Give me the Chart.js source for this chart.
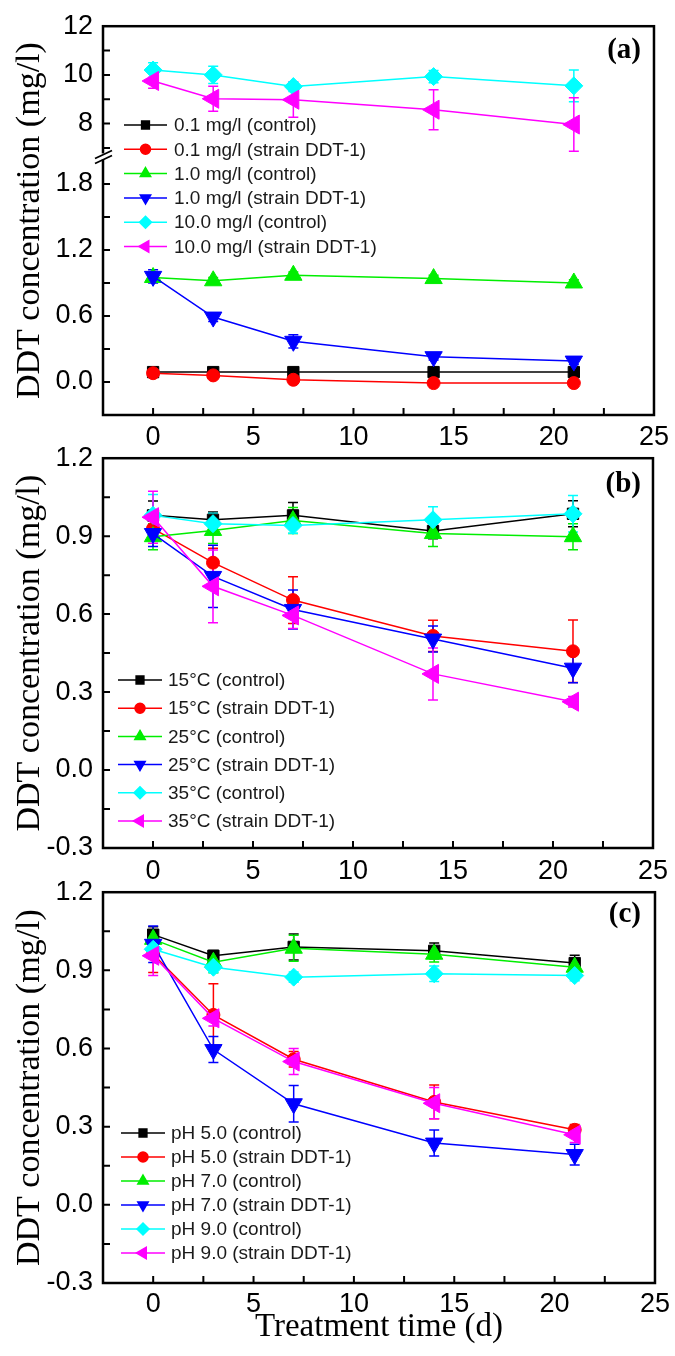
<!DOCTYPE html>
<html>
<head>
<meta charset="utf-8">
<script src="https://cdn.jsdelivr.net/npm/chart.js@4/dist/chart.umd.min.js"></script>
<style>
  html, body { margin: 0; padding: 0; background: #fff; }
  #wrap { position: relative; width: 675px; height: 1356px; background: #fff; overflow: hidden; }
  canvas { position: absolute; left: 0; }
</style>
</head>
<body>
<div id="wrap">
  <canvas id="cA" width="675" height="455" style="top:0px"></canvas>
  <canvas id="cB" width="675" height="456" style="top:432px"></canvas>
  <canvas id="cC" width="675" height="487" style="top:866px"></canvas>
</div>
<script>
// ---------------- DATA ----------------
const days = [0, 3, 7, 14, 21];

const xTicks  = [-2.5, 0, 2.5, 5, 7.5, 10, 12.5, 15, 17.5, 20, 22.5, 25];
const xLabels = ['', '0', '', '5', '', '10', '', '15', '', '20', '', '25'];

// Panel (a) – broken y axis
const yTicksA  = [0, 0.3, 0.6, 0.9, 1.2, 1.5, 1.8, 7, 8, 9, 10, 11, 12];
const yLabelsA = ['0.0', '', '0.6', '', '1.2', '', '1.8', '', '8', '', '10', '', '12'];

const namesA = ['0.1 mg/l (control)', '0.1 mg/l (strain DDT-1)', '1.0 mg/l (control)',
                '1.0 mg/l (strain DDT-1)', '10.0 mg/l (control)', '10.0 mg/l (strain DDT-1)'];
const a01Control     = [0.09, 0.09, 0.09, 0.09, 0.09];
const a01ControlErr  = [0.01, 0.01, 0.01, 0.01, 0.01];
const a01Strain      = [0.08, 0.06, 0.02, -0.01, -0.01];
const a01StrainErr   = [0.01, 0.01, 0.01, 0.01, 0.01];
const a1Control      = [0.95, 0.92, 0.97, 0.94, 0.90];
const a1ControlErr   = [0.03, 0.03, 0.03, 0.03, 0.03];
const a1Strain       = [0.96, 0.59, 0.37, 0.23, 0.19];
const a1StrainErr    = [0.06, 0.04, 0.06, 0.03, 0.03];
const a10Control     = [10.2, 10.0, 9.52, 9.93, 9.55];
const a10ControlErr  = [0.3, 0.35, 0.2, 0.25, 0.65];
const a10Strain      = [9.75, 9.02, 8.98, 8.57, 7.96];
const a10StrainErr   = [0.3, 0.51, 0.72, 0.82, 1.1];

// Panel (b) & (c) y ticks
const yTicksBC  = [-0.3, -0.15, 0, 0.15, 0.3, 0.45, 0.6, 0.75, 0.9, 1.05, 1.2];
const yLabelsBC = ['-0.3', '', '0.0', '', '0.3', '', '0.6', '', '0.9', '', '1.2'];

// Panel (b) – temperature
const namesB = ['15°C (control)', '15°C (strain DDT-1)', '25°C (control)',
                '25°C (strain DDT-1)', '35°C (control)', '35°C (strain DDT-1)'];
const b15Control    = [0.98, 0.963, 0.98, 0.92, 0.986];
const b15ControlErr = [0.055, 0.03, 0.05, 0.03, 0.05];
const b15Strain     = [0.929, 0.798, 0.654, 0.516, 0.457];
const b15StrainErr  = [0.03, 0.055, 0.09, 0.06, 0.12];
const b25Control    = [0.898, 0.922, 0.96, 0.91, 0.898];
const b25ControlErr = [0.05, 0.05, 0.05, 0.05, 0.05];
const b25Strain     = [0.91, 0.745, 0.618, 0.504, 0.392];
const b25StrainErr  = [0.05, 0.12, 0.075, 0.05, 0.056];
const b35Control    = [0.98, 0.948, 0.941, 0.963, 0.986];
const b35ControlErr = [0.08, 0.04, 0.03, 0.05, 0.07];
const b35Strain     = [0.973, 0.707, 0.595, 0.37, 0.263];
const b35StrainErr  = [0.1, 0.14, 0.05, 0.1, 0.02];

// Panel (c) – pH
const namesC = ['pH 5.0 (control)', 'pH 5.0 (strain DDT-1)', 'pH 7.0 (control)',
                'pH 7.0 (strain DDT-1)', 'pH 9.0 (control)', 'pH 9.0 (strain DDT-1)'];
const c5Control    = [1.037, 0.956, 0.99, 0.975, 0.928];
const c5ControlErr = [0.03, 0.02, 0.05, 0.03, 0.03];
const c5Strain     = [0.962, 0.729, 0.559, 0.395, 0.288];
const c5StrainErr  = [0.07, 0.12, 0.03, 0.065, 0.02];
const c7Control    = [1.019, 0.931, 0.985, 0.962, 0.912];
const c7ControlErr = [0.03, 0.04, 0.05, 0.03, 0.03];
const c7Strain     = [1.0, 0.596, 0.388, 0.237, 0.193];
const c7StrainErr  = [0.07, 0.05, 0.07, 0.05, 0.04];
const c9Control    = [0.981, 0.912, 0.874, 0.887, 0.88];
const c9ControlErr = [0.03, 0.02, 0.02, 0.03, 0.02];
const c9Strain     = [0.956, 0.716, 0.55, 0.39, 0.269];
const c9StrainErr  = [0.076, 0.03, 0.05, 0.06, 0.03];

// ---------------- STYLE ----------------
const COLORS = ['#000000', '#ff0000', '#00ee00', '#0000ff', '#00ffff', '#ff00ff'];
const STYLES = [
  { pointStyle: 'rect', rotation: 0 },
  { pointStyle: 'circle', rotation: 0 },
  { pointStyle: 'triangle', rotation: 0 },
  { pointStyle: 'triangle', rotation: 180 },
  { pointStyle: 'rectRot', rotation: 0 },
  { pointStyle: 'triangle', rotation: -90 }
];
const RADII = [8, 6.5, 10, 10, 9, 11];
const LEGEND_RADII = [5.5, 5, 6, 6, 6, 6.5];

Chart.defaults.font.family = "'Liberation Sans', Arial, sans-serif";
Chart.defaults.color = '#000';

// ---------------- BROKEN SCALE (panel a) ----------------
const BREAK_FRAC = 0.665;
const SEG_LOW  = { min: -0.3, max: 2.05 };
const SEG_HIGH = { min: 6.65, max: 12.0 };
class BrokenScale extends Chart.LinearScale {
  getPixelForValue(value) {
    let f;
    if (value <= SEG_LOW.max) {
      f = (value - SEG_LOW.min) / (SEG_LOW.max - SEG_LOW.min) * BREAK_FRAC;
    } else if (value >= SEG_HIGH.min) {
      f = BREAK_FRAC + (value - SEG_HIGH.min) / (SEG_HIGH.max - SEG_HIGH.min) * (1 - BREAK_FRAC);
    } else {
      f = BREAK_FRAC;
    }
    return this.getPixelForDecimal(f);
  }
  getValueForPixel(pixel) {
    const f = this.getDecimalForPixel(pixel);
    if (f <= BREAK_FRAC) return SEG_LOW.min + f / BREAK_FRAC * (SEG_LOW.max - SEG_LOW.min);
    return SEG_HIGH.min + (f - BREAK_FRAC) / (1 - BREAK_FRAC) * (SEG_HIGH.max - SEG_HIGH.min);
  }
}
BrokenScale.id = 'broken';
BrokenScale.defaults = Chart.LinearScale.defaults;
Chart.register(BrokenScale);

// ---------------- PLUGINS ----------------
const errorBars = {
  id: 'errorBars',
  beforeDatasetsDraw(chart) {
    const ctx = chart.ctx, xs = chart.scales.x, ys = chart.scales.y, a = chart.chartArea;
    ctx.save();
    ctx.beginPath(); ctx.rect(a.left, a.top, a.right - a.left, a.bottom - a.top); ctx.clip();
    chart.data.datasets.forEach(ds => {
      if (!ds.errors) return;
      ctx.strokeStyle = ds.borderColor; ctx.lineWidth = 1.5;
      ds.data.forEach((p, i) => {
        const e = ds.errors[i];
        const x = xs.getPixelForValue(p.x);
        const y1 = ys.getPixelForValue(p.y + e), y2 = ys.getPixelForValue(p.y - e);
        ctx.beginPath();
        ctx.moveTo(x, y1); ctx.lineTo(x, y2);
        ctx.moveTo(x - 5, y1); ctx.lineTo(x + 5, y1);
        ctx.moveTo(x - 5, y2); ctx.lineTo(x + 5, y2);
        ctx.stroke();
      });
    });
    ctx.restore();
  }
};

const frame = {
  id: 'frame',
  afterDraw(chart, args, opts) {
    const ctx = chart.ctx, a = chart.chartArea, xs = chart.scales.x, ys = chart.scales.y;
    ctx.save();
    ctx.strokeStyle = '#000';
    ctx.lineWidth = 2;
    ctx.beginPath();
    xs.ticks.forEach(t => {
      const x = xs.getPixelForValue(t.value);
      if (x <= a.left + 1 || x >= a.right - 1) return;
      ctx.moveTo(x, a.bottom); ctx.lineTo(x, a.bottom - 7);
    });
    ys.ticks.forEach(t => {
      const y = ys.getPixelForValue(t.value);
      if (y <= a.top + 1 || y >= a.bottom - 1) return;
      ctx.moveTo(a.left, y); ctx.lineTo(a.left + 7, y);
    });
    ctx.stroke();
    ctx.lineWidth = 2.5;
    ctx.strokeRect(a.left, a.top, a.right - a.left, a.bottom - a.top);
    if (opts.broken) {
      const yb = a.bottom - BREAK_FRAC * (a.bottom - a.top);
      ctx.fillStyle = '#fff';
      ctx.fillRect(a.left - 3, yb - 3, 6, 6);
      ctx.lineWidth = 1.8;
      ctx.beginPath();
      ctx.moveTo(a.left - 8, yb + 2); ctx.lineTo(a.left + 9, yb - 6);
      ctx.moveTo(a.left - 8, yb + 7); ctx.lineTo(a.left + 9, yb - 1);
      ctx.stroke();
    }
    if (opts.label) {
      ctx.fillStyle = '#000';
      ctx.font = "bold 29px 'Liberation Serif', 'Times New Roman', serif";
      ctx.textAlign = 'right';
      ctx.textBaseline = 'middle';
      ctx.fillText(opts.label, opts.labelX, opts.labelY);
    }
    ctx.restore();
  }
};

const innerLegend = {
  id: 'innerLegend',
  afterDraw(chart, args, o) {
    if (!o || o.x0 === undefined) return;
    const ctx = chart.ctx;
    ctx.save();
    chart.data.datasets.forEach((ds, i) => {
      const y = o.y0 + i * o.dy;
      ctx.strokeStyle = ds.borderColor; ctx.lineWidth = 1.5;
      ctx.beginPath(); ctx.moveTo(o.x0, y); ctx.lineTo(o.x0 + o.len, y); ctx.stroke();
      ctx.fillStyle = ds.borderColor;
      Chart.helpers.drawPoint(ctx, {
        pointStyle: STYLES[i].pointStyle, rotation: STYLES[i].rotation,
        radius: LEGEND_RADII[i], borderWidth: 1
      }, o.x0 + o.len / 2, y);
      ctx.fill();
      ctx.fillStyle = '#1a1a1a';
      ctx.font = "19px 'Liberation Sans', Arial, sans-serif";
      ctx.textAlign = 'left'; ctx.textBaseline = 'middle';
      ctx.fillText(ds.label, o.textX, y + 1);
    });
    ctx.restore();
  }
};

// ---------------- BUILD ----------------
function makeDatasets(names, series, errs) {
  return names.map((name, i) => ({
    label: name,
    data: days.map((d, j) => ({ x: d, y: series[i][j] })),
    errors: errs[i],
    borderColor: COLORS[i],
    backgroundColor: COLORS[i],
    pointBackgroundColor: COLORS[i],
    pointBorderColor: COLORS[i],
    pointBorderWidth: 1,
    borderWidth: 1.5,
    pointStyle: STYLES[i].pointStyle,
    pointRotation: STYLES[i].rotation,
    pointRadius: RADII[i],
    tension: 0,
    order: 5 - i
  }));
}

function makeChart(id, cfg) {
  const xScale = {
    type: 'linear', position: 'bottom', min: -2.5, max: 25,
    afterBuildTicks: s => { s.ticks = xTicks.map(v => ({ value: v })); },
    afterFit: s => { s.height = cfg.xHeight; },
    grid: { display: false, drawTicks: false }, border: { display: false },
    ticks: { autoSkip: false, maxRotation: 0, padding: cfg.xPad, font: { size: 27 }, color: '#000',
             callback: (v, i) => xLabels[i] },
    title: cfg.xTitle ? { display: true, text: cfg.xTitle, color: '#000',
             font: { family: "'Liberation Serif', 'Times New Roman', serif", size: 33 },
             padding: { top: 0, bottom: 6 } } : { display: false }
  };
  const yScale = {
    type: cfg.yType, position: 'left', min: cfg.yMin, max: cfg.yMax,
    afterBuildTicks: s => { s.ticks = cfg.yTicks.map(v => ({ value: v })); },
    afterFit: s => { s.width = 103; },
    grid: { display: false, drawTicks: false }, border: { display: false },
    ticks: { autoSkip: false, padding: 10, font: { size: 27 }, color: '#000',
             callback: (v, i) => cfg.yLabels[i] },
    title: { display: true, text: 'DDT concentration (mg/l)', color: '#000',
             font: { family: "'Liberation Serif', 'Times New Roman', serif", size: 34 },
             padding: { top: 10, bottom: 0 } }
  };
  return new Chart(document.getElementById(id), {
    type: 'line',
    data: { datasets: cfg.datasets },
    options: {
      responsive: false, animation: false, events: [],
      layout: { padding: { left: 0, right: 20, top: 21, bottom: 0 } },
      scales: { x: xScale, y: yScale },
      plugins: {
        legend: { display: false }, tooltip: { enabled: false },
        frame: cfg.frame,
        innerLegend: cfg.legend
      }
    },
    plugins: [errorBars, frame, innerLegend]
  });
}

makeChart('cA', {
  yType: 'broken', yMin: -0.3, yMax: 12, yTicks: yTicksA, yLabels: yLabelsA,
  xHeight: 40, xPad: 6,
  datasets: makeDatasets(namesA,
    [a01Control, a01Strain, a1Control, a1Strain, a10Control, a10Strain],
    [a01ControlErr, a01StrainErr, a1ControlErr, a1StrainErr, a10ControlErr, a10StrainErr]),
  frame: { broken: true, label: '(a)', labelX: 641, labelY: 51 },
  legend: { x0: 124, y0: 125, dy: 24.3, len: 43, textX: 174 }
});

makeChart('cB', {
  yType: 'linear', yMin: -0.3, yMax: 1.2, yTicks: yTicksBC, yLabels: yLabelsBC,
  xHeight: 40, xPad: 7,
  datasets: makeDatasets(namesB,
    [b15Control, b15Strain, b25Control, b25Strain, b35Control, b35Strain],
    [b15ControlErr, b15StrainErr, b25ControlErr, b25StrainErr, b35ControlErr, b35StrainErr]),
  frame: { broken: false, label: '(b)', labelX: 641, labelY: 53 },
  legend: { x0: 118, y0: 248, dy: 28.2, len: 44, textX: 168 }
});

makeChart('cC', {
  yType: 'linear', yMin: -0.3, yMax: 1.2, yTicks: yTicksBC, yLabels: yLabelsBC,
  xHeight: 70, xPad: 5, xTitle: 'Treatment time (d)',
  datasets: makeDatasets(namesC,
    [c5Control, c5Strain, c7Control, c7Strain, c9Control, c9Strain],
    [c5ControlErr, c5StrainErr, c7ControlErr, c7StrainErr, c9ControlErr, c9StrainErr]),
  frame: { broken: false, label: '(c)', labelX: 641, labelY: 49 },
  legend: { x0: 121, y0: 267, dy: 24, len: 44, textX: 171 }
});
</script>
</body>
</html>
